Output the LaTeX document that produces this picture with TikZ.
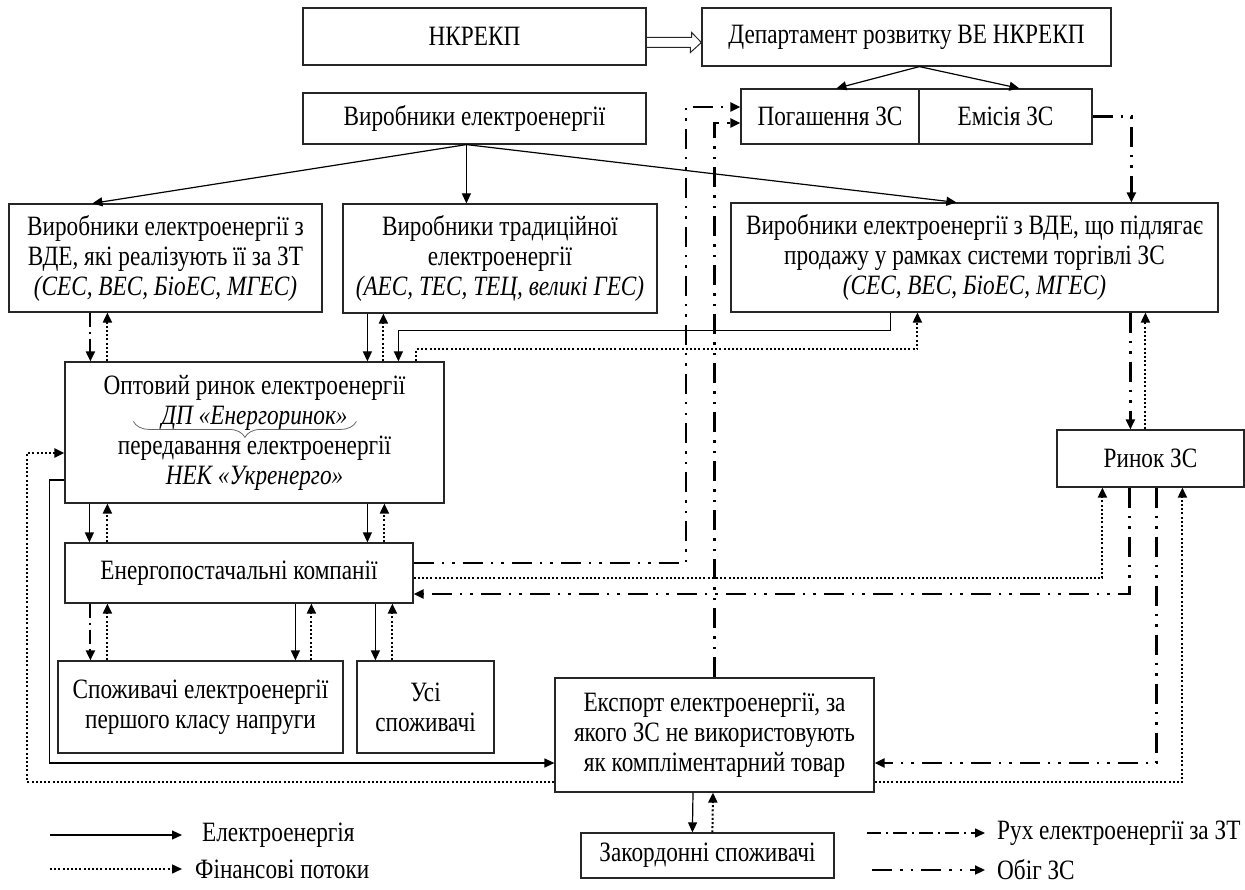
\documentclass[tikz,border=0pt]{standalone}
\usepackage{fontspec}
\setmainfont{Liberation Serif}[FakeStretch=0.83]
\usepackage{tikz}
\usetikzlibrary{arrows.meta, calc, decorations.pathreplacing}

\begin{document}
\begin{tikzpicture}[x=1pt, y=-1pt,
  box/.style={draw=black!85, line width=1.2pt, align=center, inner sep=2pt, font=\fontsize{28}{30}\selectfont},
  tip/.style={-{Triangle[length=10pt, width=9pt]}},
  elec/.style={tip, line width=1.2pt},
  fin/.style={tip, line width=2pt, dash pattern=on 2pt off 2.2pt},
  zt/.style={tip, line width=2pt, dash pattern=on 14pt off 5pt on 2pt off 5pt},
  zs/.style={tip, line width=2.2pt, dash pattern=on 20pt off 8pt on 2.5pt off 8pt on 2.5pt off 8pt},
  legtext/.style={anchor=west, inner sep=0pt, font=\fontsize{28}{30}\selectfont}]
  \useasboundingbox (0,0) rectangle (1245,890);

  % Regulator
  \node[box, minimum width=343pt, minimum height=57pt] (nk) at (474.5, 36.5) {НКРЕКП};
  \node[box, minimum width=409pt, minimum height=58pt] (dep) at (906.5, 37) {Департамент розвитку ВЕ НКРЕКП};
  \node[box, minimum width=178pt, minimum height=55pt] (pog) at (830, 116.5) {Погашення ЗС};
  \node[box, minimum width=173pt, minimum height=55pt] (emi) at (1005.5, 116.5) {Емісія ЗС};

  % Producers
  \node[box, minimum width=343pt, minimum height=51pt] (vyr) at (474.5, 118.5) {Виробники електроенергії};
  \node[box, minimum width=313pt, minimum height=108pt] (vde) at (165.5, 258) {Виробники електроенергії з\\ВДЕ, які реалізують її за ЗТ\\\textit{(СЕС, ВЕС, БіоЕС, МГЕС)}};
  \node[box, minimum width=314pt, minimum height=109pt] (trad) at (500, 258.5) {Виробники традиційної\\електроенергії\\\textit{(АЕС, ТЕС, ТЕЦ, великі ГЕС)}};
  \node[box, minimum width=487pt, minimum height=109pt] (zs) at (974.5, 257.5) {Виробники електроенергії з ВДЕ, що підлягає\\продажу у рамках системи торгівлі ЗС\\\textit{(СЕС, ВЕС, БіоЕС, МГЕС)}};

  % Markets
  \node[box, minimum width=379pt, minimum height=141pt] (opt) at (254.5, 432.5) {Оптовий ринок електроенергії\\\textit{ДП «Енергоринок»}\\передавання електроенергії\\\textit{НЕК «Укренерго»}};
  \node[box, minimum width=187pt, minimum height=57pt] (rzs) at (1150.5, 458.5) {Ринок ЗС};
  \node[box, minimum width=348pt, minimum height=60pt] (epk) at (239, 573) {Енергопостачальні компанії};

  % Consumers
  \node[box, minimum width=285pt, minimum height=92pt] (sp1) at (200.5, 707) {Споживачі електроенергії\\першого класу напруги};
  \node[box, minimum width=137pt, minimum height=92pt] (usi) at (425.5, 707) {Усі\\споживачі};
  \node[box, minimum width=319pt, minimum height=114pt] (exp) at (714.5, 735) {Експорт електроенергії, за\\якого ЗС не використовують\\як компліментарний товар};
  \node[box, minimum width=253pt, minimum height=45pt] (zak) at (707.5, 855.5) {Закордонні споживачі};

  % Brace in the market box
  \draw[line width=0.8pt, black!60, decorate, decoration={brace, mirror, amplitude=16pt}]
    ([xshift=69pt, yshift=-60pt]opt.north west) -- ([xshift=292pt, yshift=-60pt]opt.north west);

  % Top connections
  \draw[line width=1pt, black!85] ([yshift=-1pt]nk.east) -- ++(45,0) -- ++(0,-5) -- ([yshift=-5.5pt]dep.west)
    -- ++(-11,10) -- ++(0,-5) -- ([yshift=-11pt]nk.east);
  \draw[elec] ([xshift=218pt]dep.south west) -- ([xshift=96pt]pog.north west);
  \draw[elec] ([xshift=218pt]dep.south west) -- ([xshift=101pt]emi.north west);
  \draw[elec] ([xshift=164pt]vyr.south west) -- ([xshift=84pt]vde.north west);
  \draw[elec] ([xshift=164pt]vyr.south west) -- ([xshift=124pt]trad.north west);
  \draw[elec] ([xshift=164pt]vyr.south west) -- ([xshift=226pt]zs.north west);
  \draw[zs] (emi.east) -| ([xshift=401pt]zs.north west);

  % Producers and wholesale market
  \draw[zt] ([xshift=82pt]vde.south west) -- ([xshift=26pt]opt.north west);
  \draw[fin] ([xshift=43pt]opt.north west) -- ([xshift=99pt]vde.south west);
  \draw[elec] ([xshift=25pt]trad.south west) -- ([xshift=303pt]opt.north west);
  \draw[fin] ([xshift=319pt]opt.north west) -- ([xshift=41pt]trad.south west);
  \draw[elec] ([xshift=160pt]zs.south west) -- ++(0,18) -| ([xshift=334pt]opt.north west);
  \draw[fin] ([xshift=352pt]opt.north west) -- ++(0,-12) -| ([xshift=187pt]zs.south west);

  % Wholesale market and supply companies
  \draw[elec] ([xshift=25pt]opt.south west) -- ([xshift=25pt]epk.north west);
  \draw[fin] ([xshift=43pt]epk.north west) -- ([xshift=43pt]opt.south west);
  \draw[elec] ([xshift=303pt]opt.south west) -- ([xshift=303pt]epk.north west);
  \draw[fin] ([xshift=320pt]epk.north west) -- ([xshift=320pt]opt.south west);

  % Supply companies and consumers
  \draw[zt] ([xshift=26pt]epk.south west) -- ([xshift=33pt]sp1.north west);
  \draw[fin] ([xshift=50pt]sp1.north west) -- ([xshift=43pt]epk.south west);
  \draw[elec] ([xshift=231pt]epk.south west) -- ([xshift=238pt]sp1.north west);
  \draw[fin] ([xshift=254pt]sp1.north west) -- ([xshift=247pt]epk.south west);
  \draw[elec] ([xshift=311pt]epk.south west) -- ([xshift=19pt]usi.north west);
  \draw[fin] ([xshift=36pt]usi.north west) -- ([xshift=328pt]epk.south west);

  % Export
  \draw[elec] ([yshift=-47.5pt]opt.west) -- ++(-15,0) |- ([yshift=-28pt]exp.west);
  \draw[fin] ([yshift=-47pt]exp.west) -- ++(-527,0) |- ([yshift=-20.5pt]opt.west);
  \draw[elec] ([xshift=-21.5pt]exp.south) -- ([xshift=112pt]zak.north west);
  \draw[fin] ([xshift=132pt]zak.north west) -- ([xshift=-1.5pt]exp.south);

  % Green certificates
  \draw[zs] ([yshift=10pt]epk.east) -- ++(272,0) |- ([yshift=9.5pt]pog.west);
  \draw[zs] (exp.north) |- ([yshift=-6.5pt]pog.west);
  \draw[fin] ([yshift=-5pt]epk.east) -| ([xshift=46pt]rzs.south west);
  \draw[zs] ([xshift=73pt]rzs.south west) |- ([yshift=-21pt]epk.east);
  \draw[zs] ([xshift=400pt]zs.south west) -- ([xshift=74pt]rzs.north west);
  \draw[fin] ([xshift=89pt]rzs.north west) -- ([xshift=415pt]zs.south west);
  \draw[zs] ([xshift=100pt]rzs.south west) |- ([yshift=-28pt]exp.east);
  \draw[fin] ([yshift=-47pt]exp.east) -| ([xshift=126pt]rzs.south west);

  % Legend
  \node[legtext] (lel) at (202, 835) {Електроенергія};
  \node[legtext] (lfin) at (195, 869) {Фінансові потоки};
  \node[legtext] (lzt) at (997, 833) {Рух електроенергії за ЗТ};
  \node[legtext] (lzs) at (997, 870) {Обіг ЗС};
  \coordinate (lels) at (50, 835);
  \coordinate (lfins) at (50, 869);
  \coordinate (lzts) at (867, 833);
  \coordinate (lzss) at (872, 870);
  \draw[elec] (lels) -- ([xshift=-20pt]lel.west);
  \draw[fin, line width=1.5pt] (lfins) -- ([xshift=-13pt]lfin.west);
  \draw[zt, line width=1.5pt] (lzts) -- ([xshift=-12pt]lzt.west);
  \draw[zs] (lzss) -- ([xshift=-12pt]lzs.west);
\end{tikzpicture}
\end{document}
